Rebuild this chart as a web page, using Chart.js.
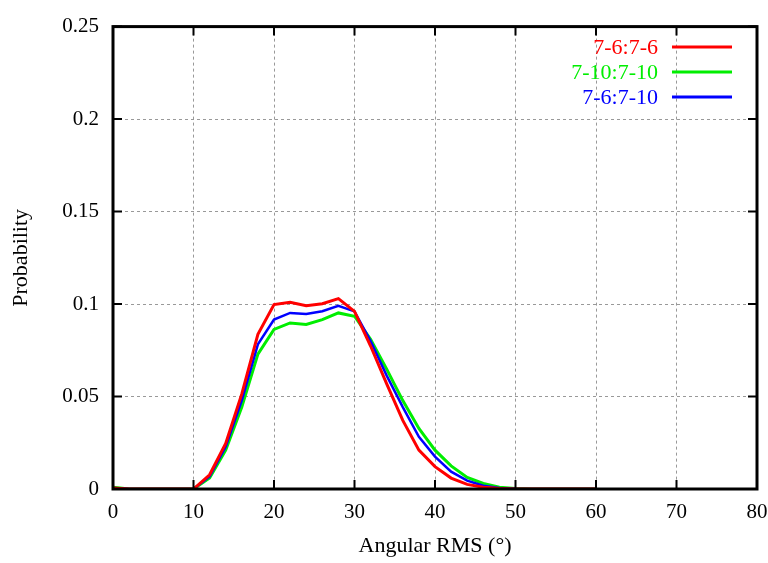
<!DOCTYPE html>
<html>
<head>
<meta charset="utf-8">
<script src="https://cdn.jsdelivr.net/npm/chart.js@4.4.1/dist/chart.umd.min.js"></script>
<style>
    html, body { margin: 0; padding: 0; background: #fff; }
</style>
</head>
<body>
<canvas id="chart_rms" width="768" height="563"></canvas>
<script>
var angles = [0, 2, 4, 6, 8, 10, 12, 14, 16, 18, 20, 22, 24, 26, 28, 30, 32, 34, 36, 38, 40, 42, 44, 46, 48, 50, 52, 54, 56, 58, 60];
var red_76_76 = [0.0005, 0, 0, 0, 0, 0, 0.0077, 0.0246, 0.0514, 0.0836, 0.0997, 0.1009, 0.0991, 0.1002, 0.1029, 0.096, 0.0773, 0.0568, 0.0371, 0.021, 0.0121, 0.0059, 0.0025, 0.001, 0.0003, 0, 0, 0, 0, 0, 0];
var green_710_710 = [0.001, 0, 0, 0, 0, 0, 0.006, 0.021, 0.0443, 0.0729, 0.0863, 0.0898, 0.089, 0.0916, 0.0952, 0.0934, 0.081, 0.0648, 0.0478, 0.0327, 0.021, 0.0125, 0.0063, 0.003, 0.001, 0.0003, 0, 0, 0, 0, 0];
var blue_76_710 = [0.0005, 0, 0, 0, 0, 0, 0.0068, 0.0228, 0.0479, 0.0782, 0.0916, 0.0952, 0.0946, 0.0961, 0.0991, 0.096, 0.080, 0.0613, 0.0443, 0.0282, 0.0175, 0.0094, 0.0045, 0.0018, 0.0006, 0.0001, 0, 0, 0, 0, 0];
var names = ["7-6:7-6", "7-10:7-10", "7-6:7-10"];
var colors = ["#ff0000", "#00ee00", "#0000ff"];
var xTicks = [0, 10, 20, 30, 40, 50, 60, 70, 80];
var yTicks = [0, 0.05, 0.1, 0.15, 0.2, 0.25];

var fontFam = "'Liberation Serif', 'DejaVu Serif', serif";

function toPoints(vals) {
    let tem = [];
    for (var i = 0; i < angles.length; i++) {
        tem.push({x: angles[i], y: vals[i]});
    }
    return tem;
}

// frame, inner tick marks and the gnuplot-style legend
var framePlugin = {
    id: "frame",
    afterDraw: function (chart) {
        var ctx = chart.ctx;
        var a = chart.chartArea;
        var xs = chart.scales.x, ys = chart.scales.y;
        ctx.save();
        ctx.strokeStyle = "#000";
        ctx.lineWidth = 2;
        xTicks.forEach(function (t) {
            var px = xs.getPixelForValue(t);
            ctx.beginPath();
            ctx.moveTo(px, a.bottom); ctx.lineTo(px, a.bottom - 9);
            ctx.moveTo(px, a.top); ctx.lineTo(px, a.top + 9);
            ctx.stroke();
        });
        yTicks.forEach(function (t) {
            var py = ys.getPixelForValue(t);
            ctx.beginPath();
            ctx.moveTo(a.left, py); ctx.lineTo(a.left + 9, py);
            ctx.moveTo(a.right, py); ctx.lineTo(a.right - 9, py);
            ctx.stroke();
        });
        ctx.lineWidth = 3;
        ctx.strokeRect(a.left, a.top, a.right - a.left, a.bottom - a.top);

        ctx.font = "22px " + fontFam;
        ctx.textAlign = "right";
        ctx.textBaseline = "middle";
        chart.data.datasets.forEach(function (ds, i) {
            var y = 47 + i * 25;
            ctx.fillStyle = ds.borderColor;
            ctx.fillText(ds.label, 658, y + 1);
            ctx.strokeStyle = ds.borderColor;
            ctx.lineWidth = 3;
            ctx.beginPath();
            ctx.moveTo(672, y); ctx.lineTo(732, y);
            ctx.stroke();
        });
        ctx.restore();
    }
};

var ctx1 = document.getElementById("chart_rms").getContext("2d");
var chart1 = new Chart(ctx1, {
    type: "line",
    data: {
        datasets: [
            {label: names[0], data: toPoints(red_76_76), borderColor: colors[0], borderWidth: 3, pointRadius: 0, tension: 0, order: 1},
            {label: names[1], data: toPoints(green_710_710), borderColor: colors[1], borderWidth: 3, pointRadius: 0, tension: 0, order: 3},
            {label: names[2], data: toPoints(blue_76_710), borderColor: colors[2], borderWidth: 2.5, pointRadius: 0, tension: 0, order: 2},
        ],
    },
    options: {
        responsive: false,
        animation: false,
        layout: {padding: {top: 21, right: 0, left: 0, bottom: 0}},
        plugins: {legend: {display: false}, tooltip: {enabled: false}},
        scales: {
            x: {
                type: "linear",
                min: 0, max: 80,
                afterBuildTicks: function (s) { s.ticks = xTicks.map(function (v) { return {value: v}; }); },
                afterFit: function (s) { s.height = 74; s.paddingRight = 11; },
                grid: {color: "#999", lineWidth: 1, drawTicks: false},
                border: {display: false, dash: [3, 3]},
                ticks: {color: "#000", padding: 11, font: {family: fontFam, size: 21}, maxRotation: 0},
                title: {display: true, text: "Angular RMS (°)", color: "#000", font: {family: fontFam, size: 22}, padding: {top: 8}},
            },
            y: {
                type: "linear",
                min: 0, max: 0.25,
                afterBuildTicks: function (s) { s.ticks = yTicks.map(function (v) { return {value: v}; }); },
                afterFit: function (s) { s.width = 113; },
                grid: {color: "#999", lineWidth: 1, drawTicks: false},
                border: {display: false, dash: [3, 3]},
                ticks: {color: "#000", padding: 14, font: {family: fontFam, size: 21}, callback: function (v) { return String(+v.toFixed(2)); }},
                title: {display: true, text: "Probability", color: "#000", font: {family: fontFam, size: 22}, padding: {top: 8, bottom: 0}},
            },
        },
    },
    plugins: [framePlugin],
});
</script>
</body>
</html>
